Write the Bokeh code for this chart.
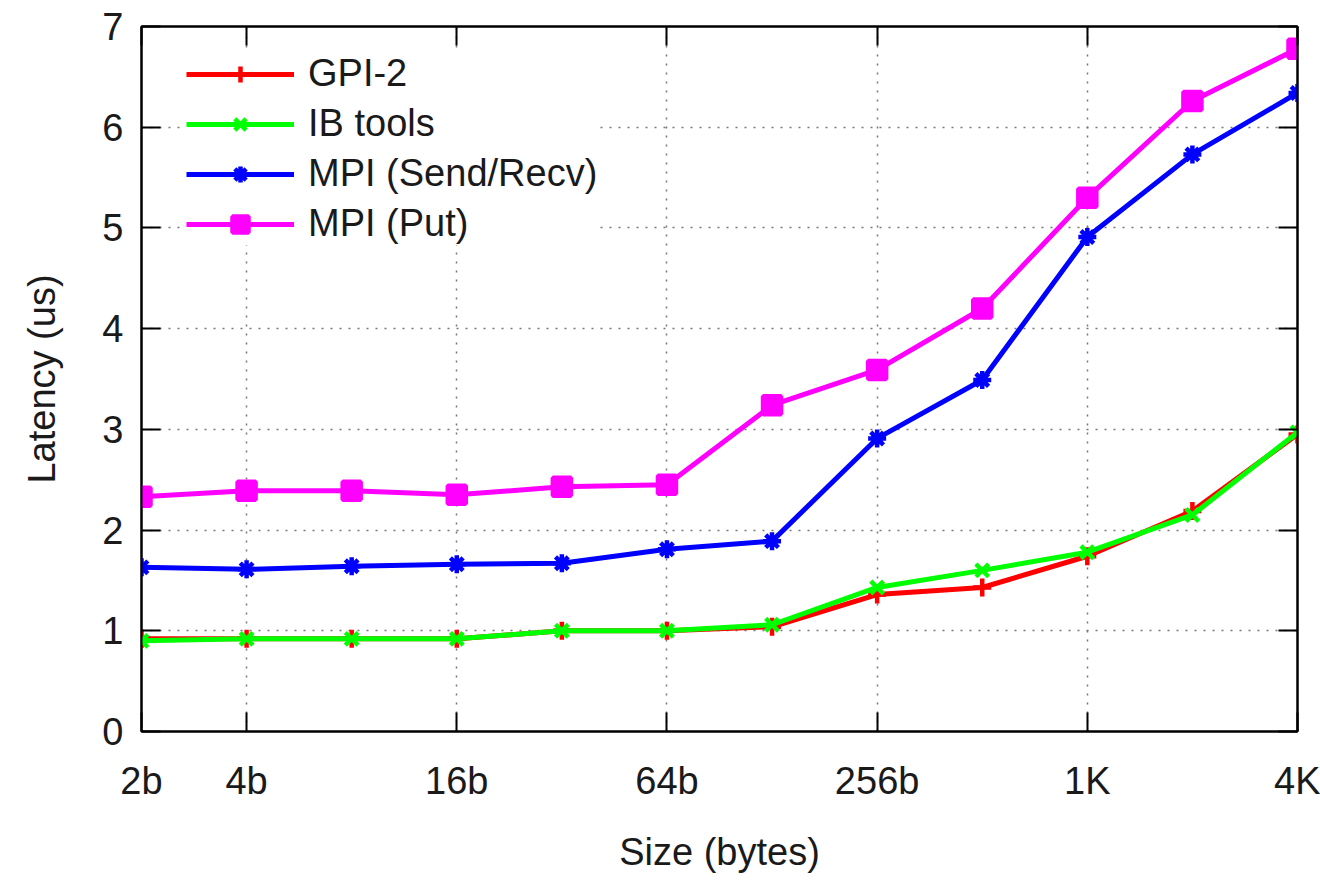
from bokeh.plotting import figure
from bokeh.models import Range1d, FixedTicker, LinearAxis, LogAxis, Legend, LegendItem
from bokeh.embed import file_html
from bokeh.resources import INLINE

sizes = [2, 4, 8, 16, 32, 64, 128, 256, 512, 1024, 2048, 4096]
gpi2 = [0.92, 0.92, 0.92, 0.92, 1.00, 1.00, 1.04, 1.36, 1.43, 1.74, 2.19, 2.95]
ib_tools = [0.90, 0.92, 0.92, 0.92, 1.00, 1.00, 1.06, 1.43, 1.60, 1.78, 2.15, 2.97]
mpi_sendrecv = [1.63, 1.61, 1.64, 1.66, 1.67, 1.81, 1.89, 2.91, 3.49, 4.91, 5.73, 6.34]
mpi_put = [2.33, 2.39, 2.39, 2.35, 2.43, 2.45, 3.24, 3.59, 4.20, 5.30, 6.26, 6.78]

x_tick_values = [2, 4, 16, 64, 256, 1024, 4096]
x_tick_labels = ["2b", "4b", "16b", "64b", "256b", "1K", "4K"]
x_grid_values = [4, 16, 64, 256, 1024]
y_tick_values = [0, 1, 2, 3, 4, 5, 6, 7]
y_grid_values = [1, 2, 3, 4, 5, 6]

series_names = ["GPI-2", "IB tools", "MPI (Send/Recv)", "MPI (Put)"]
series_colors = ["#ff0000", "#00ff00", "#0000ff", "#ff00ff"]
series_markers = ["cross", "x", "asterisk", "square"]
series_values = [gpi2, ib_tools, mpi_sendrecv, mpi_put]

FONT = "Liberation Sans"
FS = "38px"

p = figure(width=1320, height=880, x_axis_type="log",
           x_range=Range1d(2, 4096), y_range=Range1d(0, 7),
           output_backend="svg", toolbar_location=None,
           min_border_left=141, min_border_right=23,
           min_border_top=26, min_border_bottom=149)
p.background_fill_color = "white"
p.border_fill_color = "white"
p.outline_line_color = "black"
p.outline_line_width = 2

xa = p.xaxis[0]
xa.ticker = FixedTicker(ticks=x_tick_values, minor_ticks=[])
xa.major_label_overrides = {v: l for v, l in zip(x_tick_values, x_tick_labels)}
xa.axis_label = "Size (bytes)"
ya = p.yaxis[0]
ya.ticker = FixedTicker(ticks=y_tick_values, minor_ticks=[])
ya.axis_label = "Latency (us)"
for ax in (xa, ya):
    ax.major_tick_in = 19
    ax.major_tick_out = 0
    ax.minor_tick_in = 0
    ax.minor_tick_out = 0
    ax.axis_line_color = "black"
    ax.axis_line_width = 2
    ax.major_tick_line_width = 2
    ax.major_label_text_font = FONT
    ax.major_label_text_font_size = FS
    ax.major_label_text_color = "#1a1a1a"
    ax.axis_label_text_font = FONT
    ax.axis_label_text_font_size = FS
    ax.axis_label_text_font_style = "normal"
    ax.axis_label_text_color = "#1a1a1a"
xa.major_label_standoff = 28
xa.axis_label_standoff = 26
ya.major_label_standoff = 18
ya.axis_label_standoff = 36

# mirror axes (tick marks only)
top = LogAxis(ticker=FixedTicker(ticks=x_tick_values, minor_ticks=[]))
top.major_label_overrides = {v: "" for v in x_tick_values}
right = LinearAxis(ticker=FixedTicker(ticks=y_tick_values, minor_ticks=[]))
right.major_label_overrides = {v: "" for v in y_tick_values}
for ax in (top, right):
    ax.major_tick_in = 19
    ax.major_tick_out = 0
    ax.minor_tick_in = 0
    ax.minor_tick_out = 0
    ax.axis_line_width = 2
    ax.major_tick_line_width = 2
    ax.major_label_text_font_size = "1px"
    ax.major_label_standoff = 0
p.add_layout(top, "above")
p.add_layout(right, "right")

p.xgrid.ticker = FixedTicker(ticks=x_grid_values)
p.ygrid.ticker = FixedTicker(ticks=y_grid_values)
for g in (p.xgrid, p.ygrid):
    g.grid_line_color = "#777777"
    g.grid_line_width = 1.5
    g.grid_line_dash = "2 7"

items = []
for name, color, marker, vals in zip(series_names, series_colors, series_markers, series_values):
    ln = p.line(sizes, vals, line_color=color, line_width=5)
    sc = p.scatter(sizes, vals, marker=marker, size=18, line_color=color,
                   fill_color=color, line_width=4.5)
    items.append(LegendItem(label=name, renderers=[ln, sc]))

legend = Legend(items=items, location=(45, 486))
legend.label_text_font = FONT
legend.label_text_font_size = FS
legend.label_text_color = "#1a1a1a"
legend.glyph_width = 108
legend.glyph_height = 40
legend.label_height = 40
legend.spacing = 7
legend.padding = 6
legend.label_standoff = 14
legend.border_line_color = None
legend.background_fill_color = "white"
legend.background_fill_alpha = 1.0
p.add_layout(legend)

open("out.html", "w").write(file_html(p, INLINE))
